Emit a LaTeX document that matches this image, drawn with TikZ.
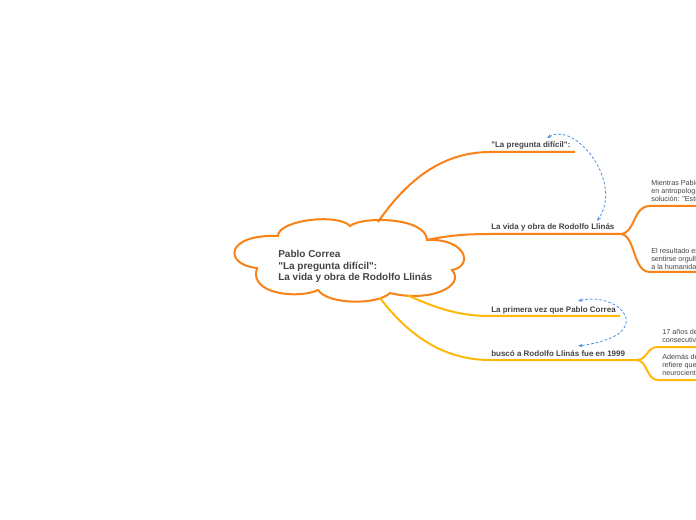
\documentclass[tikz,border=0pt]{standalone}
\usepackage{fontspec}
\setmainfont{Liberation Sans}
\definecolor{mmorange}{RGB}{248,130,22}
\definecolor{mmamber}{RGB}{255,184,10}
\definecolor{mmtext}{RGB}{68,68,68}
\definecolor{mmblue}{RGB}{74,144,226}
\usetikzlibrary{arrows.meta}

\tikzset{
  mainbranch/.style={mmorange, line width=1.5pt},
  lowbranch/.style={mmamber, line width=1.5pt},
  topictext/.style={font=\fontsize{6}{7}\selectfont\bfseries, text=mmtext, inner sep=0pt, anchor=base west},
  subtext/.style={font=\fontsize{5.4}{6}\selectfont, text=mmtext, inner sep=0pt, anchor=base west},
  relink/.style={mmblue, line width=0.6pt, dash pattern=on 2pt off 1.5pt, {Stealth[length=3.5pt]}-{Stealth[length=3.5pt]}}
}

\begin{document}
\begin{tikzpicture}[x=0.75pt, y=-0.75pt]
\useasboundingbox (0,0) rectangle (696,520);
\clip (0,0) rectangle (696,520);

% --- Central cloud ---
\draw[mmorange, line width=1.5pt, fill=white]
  (278,236) .. controls (278,220) and (338,213) .. (350,226)
  .. controls (362,216) and (426,217) .. (427,240)
  .. controls (466,238) and (474,266) .. (452,270)
  .. controls (466,286) and (430,303) .. (390,293)
  .. controls (378,305) and (328,305) .. (318,290)
  .. controls (300,299) and (248,295) .. (257,268)
  .. controls (224,265) and (224,234) .. (278,236) -- cycle;
\node[font=\fontsize{7.5}{8.7}\selectfont\bfseries, text=mmtext, align=left, inner sep=0pt, anchor=north west]
  (root) at (278,250) {Pablo Correa\\\textquotedbl La pregunta difícil\textquotedbl:\\La vida y obra de Rodolfo Llinás};

% attach points on the cloud
\coordinate (c1) at (378,222);
\coordinate (c2) at (427,240);
\coordinate (c3) at (407,295);
\coordinate (c4) at (380,298);

% --- Branch 1 ---
\coordinate (b1) at (490,152);
\coordinate (e1) at (575,152);
\draw[mainbranch] (c1) .. controls (405,183) and (440,152) .. (b1) -- (e1);
\node[topictext] (pregunta) at (491,148) {\textquotedbl La pregunta difícil\textquotedbl:};

% --- Branch 2 ---
\coordinate (b2) at (490,234);
\coordinate (e2) at (620,234);
\draw[mainbranch] (c2) .. controls (450,235) and (470,234) .. (b2) -- (e2);
\node[topictext] (vida) at (491,230) {La vida y obra de Rodolfo Llinás};

\coordinate (s1) at (650,206);
\coordinate (s2) at (650,272);
\draw[mainbranch] (e2) .. controls (636,234) and (632,206) .. (s1) -- (700,206);
\draw[mainbranch] (e2) .. controls (636,234) and (632,272) .. (s2) -- (700,272);
\node[subtext] (mientras) at (651,185.5) {Mientras Pablo};
\node[subtext] at (651,193.5) {en antropologí};
\node[subtext] at (651,201.5) {solución: \textquotedbl Estu};
\node[subtext] (resultado) at (651,253.5) {El resultado es};
\node[subtext] at (651,261.5) {sentirse orgulle};
\node[subtext] at (651,269.5) {a la humanidad};

% --- Branch 3 ---
\coordinate (b3) at (490,316);
\coordinate (e3) at (620,316);
\draw[lowbranch] (c3) .. controls (440,310) and (462,316) .. (b3) -- (e3);
\node[topictext] (primera) at (491,312) {La primera vez que Pablo Correa};

% --- Branch 4 ---
\coordinate (b4) at (490,360);
\coordinate (e4) at (636,360);
\draw[lowbranch] (c4) .. controls (412,340) and (448,360) .. (b4) -- (e4);
\node[topictext] (busco) at (491,356) {buscó a Rodolfo Llinás fue en 1999};

\coordinate (s3) at (658,347);
\coordinate (s4) at (658,380);
\draw[lowbranch] (e4) .. controls (648,360) and (646,347) .. (s3) -- (700,347);
\draw[lowbranch] (e4) .. controls (648,360) and (646,380) .. (s4) -- (700,380);
\node[subtext] (anos) at (662,334.5) {17 años de};
\node[subtext] at (662,342.5) {consecutivo};
\node[subtext] (ademas) at (662,359.5) {Además de};
\node[subtext] at (662,367.5) {refiere que};
\node[subtext] at (662,375.5) {neurocientí};

% --- Relationship links ---
\coordinate (r1) at (547,138);
\coordinate (r2) at (597,221);
\draw[relink] (r1) .. controls (575,121) and (624,182) .. (r2);
\coordinate (r3) at (578,301);
\coordinate (r4) at (578,346);
\draw[relink] (r3) .. controls (620,291) and (660,335) .. (r4);

\end{tikzpicture}
\end{document}
